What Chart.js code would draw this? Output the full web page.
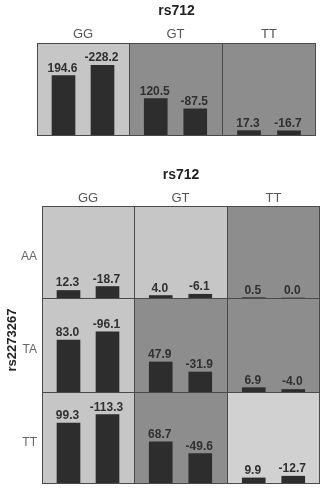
<!DOCTYPE html>
<html>
<head>
<meta charset="utf-8">
<script src="https://cdn.jsdelivr.net/npm/chart.js@4.4.1/dist/chart.umd.min.js"></script>
<style>
  html, body { margin:0; padding:0; background:#fff; }
  #root { position:relative; width:324px; height:489px; overflow:hidden; font-family:"Liberation Sans", Arial, sans-serif; }
  .abs { position:absolute; }
  .txt { will-change: transform; -webkit-font-smoothing: antialiased; }
  .title { font-weight:bold; font-size:14px; color:#222; text-align:center; }
  .col { font-size:13px; color:#555; text-align:center; }
  .row { font-size:12px; color:#666; text-align:right; }
  canvas { display:block; }
</style>
</head>
<body>
<div id="root"></div>
<script>
// ---- data ----
const panelTitle = 'rs712';
const rowAxisTitle = 'rs2273267';
const colCategories = ['GG', 'GT', 'TT'];
const rowCategories = ['AA', 'TA', 'TT'];
const barCategories = ['1', '2'];

const topGG = [194.6, -228.2];
const topGT = [120.5, -87.5];
const topTT = [17.3, -16.7];

const aaGG = [12.3, -18.7];
const aaGT = [4.0, -6.1];
const aaTT = [0.5, 0.0];
const taGG = [83.0, -96.1];
const taGT = [47.9, -31.9];
const taTT = [6.9, -4.0];
const ttGG = [99.3, -113.3];
const ttGT = [68.7, -49.6];
const ttTT = [9.9, -12.7];

const topMax = 300;
const gridMax = 150;

// ---- layout / style ----
const LIGHT = '#c6c6c6', DARK = '#8d8d8d', LIGHTER = '#d1d1d1';
const root = document.getElementById('root');

function addText(cls, text, x, y, w, h, extra) {
  const d = document.createElement('div');
  d.className = 'abs txt ' + cls;
  d.textContent = text;
  d.style.left = x + 'px'; d.style.top = y + 'px';
  d.style.width = w + 'px'; d.style.height = h + 'px';
  d.style.lineHeight = h + 'px';
  if (extra) Object.assign(d.style, extra);
  root.appendChild(d);
  return d;
}

const labelPlugin = {
  id: 'valueLabels',
  afterDatasetsDraw(chart) {
    const ctx = chart.ctx;
    const ds = chart.data.datasets[0];
    const meta = chart.getDatasetMeta(0);
    ctx.save();
    ctx.font = 'bold 12px "Liberation Sans", Arial, sans-serif';
    ctx.fillStyle = '#303030';
    ctx.textAlign = 'center';
    ctx.textBaseline = 'alphabetic';
    meta.data.forEach((bar, i) => {
      ctx.fillText(ds.raw[i].toFixed(1), bar.x - 1, bar.y - 4);
    });
    ctx.restore();
  }
};

function makeCell(x, y, w, h, values, bg, ymax) {
  const c = document.createElement('canvas');
  c.width = w; c.height = h;
  c.className = 'abs';
  c.style.left = x + 'px'; c.style.top = y + 'px';
  c.style.background = bg;
  root.appendChild(c);
  new Chart(c, {
    type: 'bar',
    data: {
      labels: barCategories,
      datasets: [{
        data: values.map(v => Math.abs(v)),
        raw: values,
        backgroundColor: '#2d2d2d',
        borderWidth: 0,
        barThickness: 23
      }]
    },
    options: {
      responsive: false,
      animation: false,
      events: [],
      layout: { padding: { left: 7, right: 7, top: 0, bottom: 0 } },
      plugins: { legend: { display: false }, tooltip: { enabled: false } },
      scales: {
        x: { display: false },
        y: { display: false, min: 0, max: ymax }
      }
    },
    plugins: [labelPlugin]
  });
}

function makeGrid(xs, ys, data, colors, ymax) {
  for (let r = 0; r < ys.length - 1; r++) {
    for (let c = 0; c < xs.length - 1; c++) {
      makeCell(xs[c], ys[r], xs[c + 1] - xs[c], ys[r + 1] - ys[r], data[r][c], colors[r][c], ymax);
    }
  }
  const f = document.createElement('div');
  f.className = 'abs';
  Object.assign(f.style, {
    left: xs[0] + 'px', top: ys[0] + 'px',
    width: (xs[xs.length - 1] - xs[0]) + 'px', height: (ys[ys.length - 1] - ys[0]) + 'px',
    border: '1px solid #4a4a4a', boxSizing: 'border-box'
  });
  root.appendChild(f);
  for (let c = 1; c < xs.length - 1; c++) {
    const l = document.createElement('div');
    l.className = 'abs';
    Object.assign(l.style, { left: xs[c] + 'px', top: ys[0] + 'px', width: '1px',
      height: (ys[ys.length - 1] - ys[0]) + 'px', background: '#4a4a4a' });
    root.appendChild(l);
  }
  for (let r = 1; r < ys.length - 1; r++) {
    const l = document.createElement('div');
    l.className = 'abs';
    Object.assign(l.style, { left: xs[0] + 'px', top: ys[r] + 'px', height: '1px',
      width: (xs[xs.length - 1] - xs[0]) + 'px', background: '#4a4a4a' });
    root.appendChild(l);
  }
}

// ---- top panel ----
const topXs = [37, 129, 222, 316];
const topYs = [43, 136];
addText('title', panelTitle, 37, 1, 279, 18);
colCategories.forEach((t, i) => addText('col', t, topXs[i], 26, topXs[i + 1] - topXs[i], 16));
makeGrid(topXs, topYs, [[topGG, topGT, topTT]], [[LIGHT, DARK, DARK]], topMax);

// ---- bottom panel ----
const gXs = [42, 134, 227, 320];
const gYs = [206, 298, 392, 484];
addText('title', panelTitle, 42, 165, 278, 18);
colCategories.forEach((t, i) => addText('col', t, gXs[i], 190, gXs[i + 1] - gXs[i], 16));
rowCategories.forEach((t, i) => addText('row', t, 0, (gYs[i] + gYs[i + 1]) / 2 - 4, 37, 16));
addText('title', rowAxisTitle, 12 - 50, 340 - 9, 100, 18, { transform: 'rotate(-90deg)', fontSize: '13px' });
makeGrid(gXs, gYs,
  [[aaGG, aaGT, aaTT], [taGG, taGT, taTT], [ttGG, ttGT, ttTT]],
  [[LIGHT, LIGHT, DARK], [LIGHT, DARK, DARK], [LIGHT, DARK, LIGHTER]],
  gridMax);
</script>
</body>
</html>
